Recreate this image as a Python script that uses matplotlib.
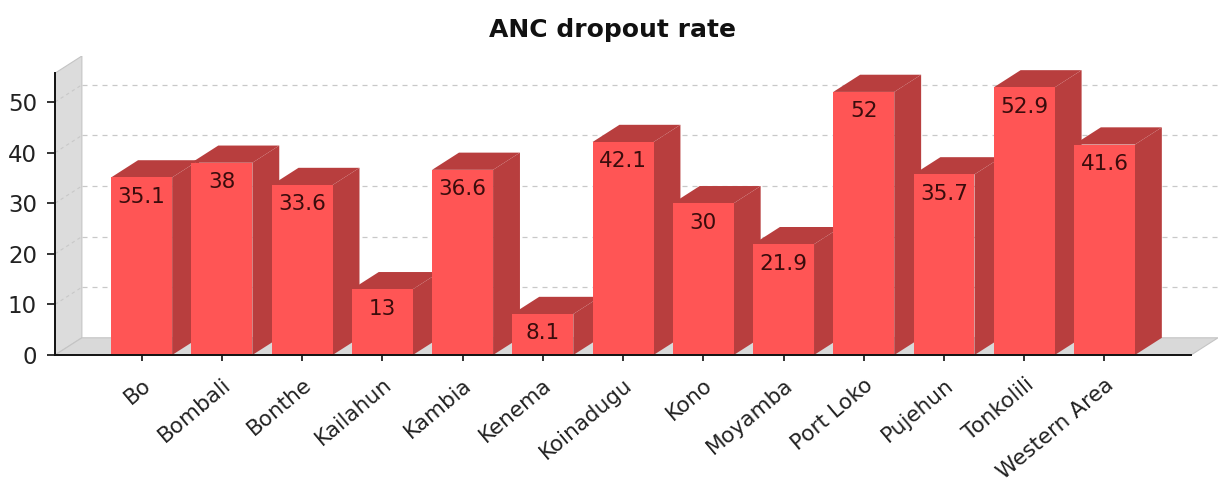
import matplotlib.pyplot as plt
from matplotlib.patches import Polygon, Rectangle

# ANC dropout rate by district
regions = ['Bo', 'Bombali', 'Bonthe', 'Kailahun', 'Kambia', 'Kenema', 'Koinadugu',
           'Kono', 'Moyamba', 'Port Loko', 'Pujehun', 'Tonkolili', 'Western Area']
rates = [35.1, 38, 33.6, 13, 36.6, 8.1, 42.1, 30, 21.9, 52, 35.7, 52.9, 41.6]
yticks = [0, 10, 20, 30, 40, 50]

W, H = 1218, 483
fig = plt.figure(figsize=(W / 100, H / 100), dpi=100)
ax = fig.add_axes([55 / W, 128 / H, 1163 / W, 299 / H])

n = len(regions)
x_lo, x_hi = -1.08, n - 1 + 1.08
y_top = 55.7
dx, dy = 0.335, 3.4          # 3D depth offset (data units)
bw = 0.76                    # bar width

front = '#ff5555'
shade = '#b83e3e'

ax.set_xlim(x_lo, x_hi + dx)
ax.set_ylim(0, y_top + dy)

# left wall and floor
ax.add_patch(Polygon([(x_lo, 0), (x_lo, y_top), (x_lo + dx, y_top + dy), (x_lo + dx, dy)],
                     closed=True, fc='#dcdcdc', ec='#c4c4c4', lw=0.8, zorder=1))
ax.add_patch(Polygon([(x_lo, 0), (x_hi, 0), (x_hi + dx, dy), (x_lo + dx, dy)],
                     closed=True, fc='#d9d9d9', ec='#c4c4c4', lw=0.8, zorder=1))

# gridlines on the back wall
for v in yticks[1:]:
    ax.plot([x_lo + dx, x_hi + dx], [v + dy, v + dy], ls=(0, (4, 4)),
            color='#c8c8c8', lw=0.9, zorder=2)
    ax.plot([x_lo, x_lo + dx], [v, v + dy], ls=(0, (3, 3)),
            color='#c8c8c8', lw=0.8, zorder=2)

# 3D bars, drawn left to right so each front face covers the previous side
for i, v in enumerate(rates):
    x0, x1 = i - bw / 2, i + bw / 2
    z = 3 + i
    ax.add_patch(Polygon([(x1, 0), (x1 + dx, dy), (x1 + dx, v + dy), (x1, v)],
                         closed=True, fc=shade, ec='none', zorder=z))
    ax.add_patch(Polygon([(x0, v), (x1, v), (x1 + dx, v + dy), (x0 + dx, v + dy)],
                         closed=True, fc=shade, ec='none', zorder=z))
    ax.add_patch(Rectangle((x0, 0), bw, v, fc=front, ec='none', zorder=z))
    ax.annotate(f'{v:g}', (i, v), xytext=(0, -14), textcoords='offset points',
                ha='center', va='center', fontsize=15.5, color='#3a0c0c',
                zorder=z + 0.5)

for s in ['top', 'right']:
    ax.spines[s].set_visible(False)
ax.spines['left'].set_bounds(0, y_top)
ax.spines['bottom'].set_bounds(x_lo, x_hi)
for s in ['left', 'bottom']:
    ax.spines[s].set_linewidth(1.4)
    ax.spines[s].set_color('#111111')
    ax.spines[s].set_zorder(30)

ax.set_yticks(yticks)
ax.set_yticklabels([str(t) for t in yticks], fontsize=16.5, color='#222222')
ax.set_xticks(range(n))
ax.set_xticklabels(regions, rotation=40, ha='right', rotation_mode='anchor',
                   fontsize=15.5, color='#222222')
ax.tick_params(axis='both', width=1.2, color='#111111')
ax.tick_params(axis='x', length=4, pad=10)
ax.tick_params(axis='y', length=6, pad=7)

fig.text(612 / W, 1 - 30 / H, 'ANC dropout rate', ha='center', va='center',
         fontsize=18, fontweight='bold', color='#111111')

fig.savefig('out.png', dpi=100)
